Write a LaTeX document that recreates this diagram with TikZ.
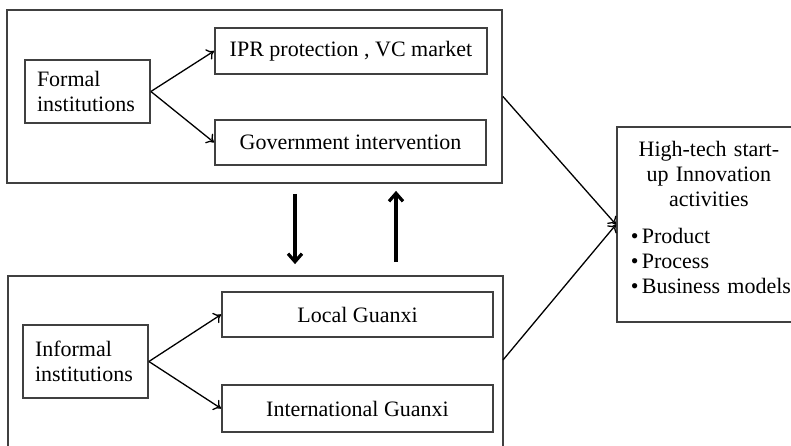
\documentclass[tikz,border=0pt]{standalone}
\usepackage{fontspec}
\setmainfont{Liberation Serif}
\usetikzlibrary{arrows.meta}
\setlength{\parindent}{0pt}

\begin{document}
\begin{tikzpicture}[x=1pt, y=-1pt, font=\fontsize{22}{25}\selectfont,
    frame/.style={draw=black!75, line width=1.8pt, inner sep=0pt},
    box/.style={draw=black!75, line width=1.8pt, inner sep=0pt},
    link/.style={-{To[length=7pt,width=12pt]}, line width=1.3pt},
    bigarrow/.style={-{Straight Barb[length=8pt,width=14pt]}, line width=3.2pt}]
        \useasboundingbox (0,0) rectangle (791,446);
        \clip (0,0) rectangle (791,446);

        % the two institution frames
        \node[frame, minimum width=495pt, minimum height=173pt] (formalframe) at (254.5,96.5) {};
        \node[frame, minimum width=495pt, minimum height=200pt] (informalframe) at (255.5,376) {};

        \node[box, minimum width=125pt, minimum height=63pt, text width=101pt, inner xsep=12pt, align=left] (formal) at (87.5,91.5) {Formal\\institutions};
        \node[box, minimum width=272pt, minimum height=46pt] (ipr) at (351,51) {IPR protection , VC market};
        \node[box, minimum width=271pt, minimum height=45pt] (gov) at (350.5,142.5) {Government intervention};

        \node[box, minimum width=125pt, minimum height=73pt, text width=101pt, inner xsep=12pt, align=left] (informal) at (85.5,361.5) {Informal\\institutions};
        \node[box, minimum width=271pt, minimum height=45pt] (local) at (357.5,314.5) {Local Guanxi};
        \node[box, minimum width=271pt, minimum height=47pt] (intl) at (357.5,408.5) {International Guanxi};

        % outcome box
        \node[box, anchor=north west, minimum width=184pt, text width=164pt, inner xsep=10pt, inner ysep=14pt] (hightech) at (616,126)
            {{\centering High-tech start-\\up Innovation\\activities\par}\vspace{12pt}%
             {\raggedright\hspace*{4pt}•\hspace{0.15em}Product\\\hspace*{4pt}•\hspace{0.15em}Process\\\hspace*{4pt}\mbox{•\hspace{0.15em}Business models}\rule[-15pt]{0pt}{15pt}\par}};

        \coordinate (lowout) at (503,360);

        \draw[link] (formal.east) -- (ipr.west);
        \draw[link] (formal.east) -- (gov.west);
        \draw[link] (informal.east) -- (local.west);
        \draw[link] (informal.east) -- (intl.west);

        \draw[link] (formalframe.east) -- (hightech.west);
        \draw[link] (lowout) -- (hightech.west);

        \draw[bigarrow] ([xshift=40.5pt,yshift=-10pt]formalframe.south) -- ([xshift=39.5pt,yshift=11pt]informalframe.north);
        \draw[bigarrow] ([xshift=140.5pt,yshift=13pt]informalframe.north) -- ([xshift=141.5pt,yshift=-7pt]formalframe.south);
    \end{tikzpicture}
\end{document}
